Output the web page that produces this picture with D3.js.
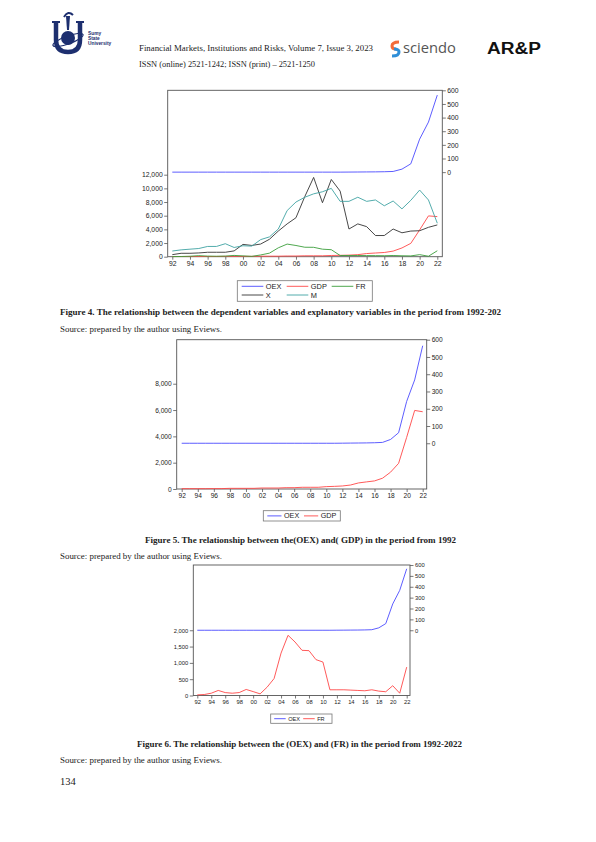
<!DOCTYPE html>
<html>
<head>
<meta charset="utf-8">
<script src="https://cdn.jsdelivr.net/npm/d3@7"></script>
<style>
  body { margin: 0; background: #fff; }
  svg text { font-family: "Liberation Sans", Arial, sans-serif; fill: #222; }
  .serif { font-family: "Liberation Serif", "Times New Roman", serif !important; }
</style>
</head>
<body>
<svg id="page" width="596" height="842"></svg>
<script>
// years 1992-2022
const years = [1992,1993,1994,1995,1996,1997,1998,1999,2000,2001,2002,2003,2004,2005,2006,2007,
  2008,2009,2010,2011,2012,2013,2014,2015,2016,2017,2018,2019,2020,2021,2022]

const oex = [0,0,0,0,0,0,0,0,0,0,0,0,0,0,0,0,0,0,0,0,0.5,1,1.5,2,3,5,22,61,242,367,565]
const gdp = [25,25,25,25,30,30,50,50,50,50,75,75,75,100,100,130,130,130,180,200,230,300,460,540,615,820,1280,1950,3920,5970,5870]
const fr = [20,30,70,155,90,70,90,185,120,50,255,520,1300,1845,1640,1385,1375,1100,1025,175,175,175,165,155,145,175,135,115,300,70,870]
const xp = [300,500,500,550,650,650,650,850,1800,1650,1850,2550,3750,4800,5700,8800,11600,7900,11300,9600,4050,4800,4400,3100,3100,4050,3500,3750,3800,4300,4650]
const mp = [830,1000,1100,1200,1500,1500,1900,1350,1600,1550,2500,2900,4050,6750,8000,8700,9200,9500,10000,8100,8100,8700,8100,8300,7450,8150,7000,8250,9750,8300,4900]

const rightTicks = [0,100,200,300,400,500,600]

const svg = d3.select("#page")

// ---------- header ----------
function header(){
  let g = svg.append("g")
  // Sumy State University logo (simplified)
  g.append("path").attr("d","M56,22 L56,40 Q56,52 68,52 Q80,52 80,40 L80,22")
    .attr("fill","none").attr("stroke","#1d2f6f").attr("stroke-width",4.5)
  g.append("path").attr("d","M52,22 L60,22 M76,22 L84,22").attr("stroke","#1d2f6f").attr("stroke-width",2)
  g.append("circle").attr("cx",68).attr("cy",38).attr("r",7).attr("fill","#1d2f6f")
  g.append("ellipse").attr("cx",68).attr("cy",40).attr("rx",16).attr("ry",4)
    .attr("fill","none").attr("stroke","#1d2f6f").attr("stroke-width",1.2)
    .attr("transform","rotate(-20,68,40)")
  g.append("path").attr("d","M66,16 L70,16 L69,30 L67,30 Z").attr("fill","#1d2f6f")
  g.append("path").attr("d","M64,17 Q68,10 73,15").attr("fill","none").attr("stroke","#1d2f6f").attr("stroke-width",2)
  ;["Sumy","State","University"].forEach((t,i)=>{
    g.append("text").attr("x",88).attr("y",35+i*5).text(t)
      .style("font-size","4.8px").style("font-weight","bold").style("fill","#1d2f6f")
  })
  g.append("text").attr("class","serif").attr("x",139).attr("y",51)
    .attr("textLength",234).attr("lengthAdjust","spacingAndGlyphs")
    .style("font-size","8px").text("Financial Markets, Institutions and Risks, Volume 7, Issue 3, 2023")
  g.append("text").attr("class","serif").attr("x",139).attr("y",67)
    .attr("textLength",176).attr("lengthAdjust","spacingAndGlyphs")
    .style("font-size","8px").text("ISSN (online) 2521-1242; ISSN (print) – 2521-1250")
  // sciendo
  g.append("path").attr("d","M399,42 Q392,42 392,46 Q392,49 396,49").attr("fill","none")
    .attr("stroke","#f26b3a").attr("stroke-width",3)
  g.append("path").attr("d","M394,49 Q399,49 399,52 Q399,56 392,56").attr("fill","none")
    .attr("stroke","#2f8fd8").attr("stroke-width",3)
  g.append("text").attr("x",403).attr("y",53).attr("textLength",53).attr("lengthAdjust","spacingAndGlyphs")
    .style("font-size","14px").style("font-family","'Open Sans', sans-serif").style("fill","#555").text("sciendo")
  g.append("text").attr("x",487).attr("y",54).attr("textLength",54).attr("lengthAdjust","spacingAndGlyphs")
    .style("font-size","16px").style("font-weight","bold").style("fill","#111").text("AR&P")
}
header()

// ---------- chart drawing ----------
function drawChart(c){
  let g = svg.append("g")
  let x = d3.scaleLinear().domain([1992,2022]).range([c.x0, c.x1])
  let yL = d3.scaleLinear().domain(c.leftDomain).range([c.bottom, c.top])
  let yR = d3.scaleLinear().domain(c.rightDomain).range([c.bottom, c.top])

  // frame
  g.append("rect").attr("x",c.left).attr("y",c.top)
    .attr("width",c.right-c.left).attr("height",c.bottom-c.top)
    .attr("fill","none").attr("stroke","#555").attr("stroke-width",0.9)

  let leftAxis = d3.axisLeft(yL).tickValues(c.leftTicks).tickSize(3.5).tickPadding(1.5)
    .tickFormat(d3.format(",")).tickSizeOuter(0)
  let la = g.append("g").attr("transform",`translate(${c.left},0)`).call(leftAxis)
  let rightAxis = d3.axisRight(yR).tickValues(rightTicks).tickSize(3.5).tickPadding(1.5)
    .tickFormat(d3.format(",")).tickSizeOuter(0)
  let ra = g.append("g").attr("transform",`translate(${c.right},0)`).call(rightAxis)
  let bottomAxis = d3.axisBottom(x).tickValues(years.filter((d,i)=>i%2==0)).tickSize(3)
    .tickPadding(1.5).tickFormat(d=>String(d).slice(2)).tickSizeOuter(0)
  let ba = g.append("g").attr("transform",`translate(0,${c.bottom})`).call(bottomAxis)
  ;[la,ra,ba].forEach(a=>{
    a.select(".domain").remove()
    a.selectAll("line").attr("stroke","#555").attr("stroke-width",0.8)
    a.selectAll("text").style("font-size",c.fs+"px").style("fill","#222")
      .style("font-family","'Liberation Sans', Arial, sans-serif")
  })

  let line = d3.line()
  c.series.forEach(s=>{
    let sc = s.axis=="right" ? yR : yL
    g.append("path").datum(s.values)
      .attr("d", line.x((d,i)=>x(years[i])).y(d=>sc(d)))
      .attr("fill","none").attr("stroke",s.color).attr("stroke-width",0.9)
  })

  // legend
  let L = c.legend
  g.append("rect").attr("x",L.x).attr("y",L.y).attr("width",L.w).attr("height",L.h)
    .attr("fill","#fff").attr("stroke","#777").attr("stroke-width",0.8)
  c.series.forEach((s,i)=>{
    let col = i % L.cols, row = Math.floor(i / L.cols)
    let lx = L.x + L.pad + col*L.colW, ly = L.y + L.rowY0 + row*L.rowH
    g.append("line").attr("x1",lx).attr("x2",lx+L.lineW).attr("y1",ly).attr("y2",ly)
      .attr("stroke",s.color).attr("stroke-width",0.9)
    g.append("text").attr("x",lx+L.lineW+2.5).attr("y",ly).attr("dy","0.35em")
      .style("font-size",L.fs+"px").text(s.name)
  })
}

const cBlue = "#4b4bff", cRed = "#ff4747", cGreen = "#3b9e3b", cBlack = "#333333", cTeal = "#40a3a3"

// Figure 4
drawChart({
  left:167.7, right:442.3, top:90.3, bottom:256.7, x0:172.3, x1:437.3,
  leftDomain:[0,24350], leftTicks:[0,2000,4000,6000,8000,10000,12000],
  rightDomain:[-620,600], fs:6.8,
  series:[
    {name:"OEX", values:oex, color:cBlue, axis:"right"},
    {name:"GDP", values:gdp, color:cRed},
    {name:"FR", values:fr, color:cGreen},
    {name:"X", values:xp, color:cBlack},
    {name:"M", values:mp, color:cTeal}
  ],
  legend:{x:237.3, y:280.7, w:135, h:20.6, cols:3, pad:4.4, colW:45, rowY0:5.6, rowH:8.7, lineW:21.6, fs:7.4}
})

// Figure 5
drawChart({
  left:176.7, right:426.7, top:339.7, bottom:489, x0:181.7, x1:422.7,
  leftDomain:[0,11345], leftTicks:[0,2000,4000,6000,8000],
  rightDomain:[-265,600], fs:6.6,
  series:[
    {name:"OEX", values:oex, color:cBlue, axis:"right"},
    {name:"GDP", values:gdp, color:cRed}
  ],
  legend:{x:263.3, y:510.7, w:77, h:10.3, cols:2, pad:4, colW:36.7, rowY0:5.2, rowH:9, lineW:14.2, fs:7.2}
})

// Figure 6
drawChart({
  left:193.3, right:410, top:565, bottom:695.5, x0:197.3, x1:406.7,
  leftDomain:[0,4000], leftTicks:[0,500,1000,1500,2000],
  rightDomain:[-600,600], fs:5.8,
  series:[
    {name:"OEX", values:oex, color:cBlue, axis:"right"},
    {name:"FR", values:fr, color:cRed}
  ],
  legend:{x:270.7, y:714, w:61.3, h:9.3, cols:2, pad:3.5, colW:29, rowY0:4.7, rowH:9, lineW:11.5, fs:5.6}
})

// ---------- captions ----------
function cap(txt, x, y, w, bold){
  svg.append("text").attr("class","serif").attr("x",x).attr("y",y)
    .attr("textLength",w).attr("lengthAdjust","spacingAndGlyphs")
    .style("font-size","8.2px").style("font-weight",bold?"bold":"normal").text(txt)
}
cap("Figure 4. The relationship between the dependent variables and explanatory variables in the period from 1992-202", 60, 315, 441, true)
cap("Source: prepared by the author using Eviews.", 60, 332, 162, false)
cap("Figure 5. The relationship between the(OEX) and( GDP) in the period from 1992", 145, 543, 311, true)
cap("Source: prepared by the author using Eviews.", 60, 559, 162, false)
cap("Figure 6. The relationship between the (OEX) and (FR) in the period from 1992-2022", 137, 747, 325, true)
cap("Source: prepared by the author using Eviews.", 60, 763, 162, false)
svg.append("text").attr("class","serif").attr("x",60).attr("y",785)
  .style("font-size","10.5px").text("134")
</script>
</body>
</html>
